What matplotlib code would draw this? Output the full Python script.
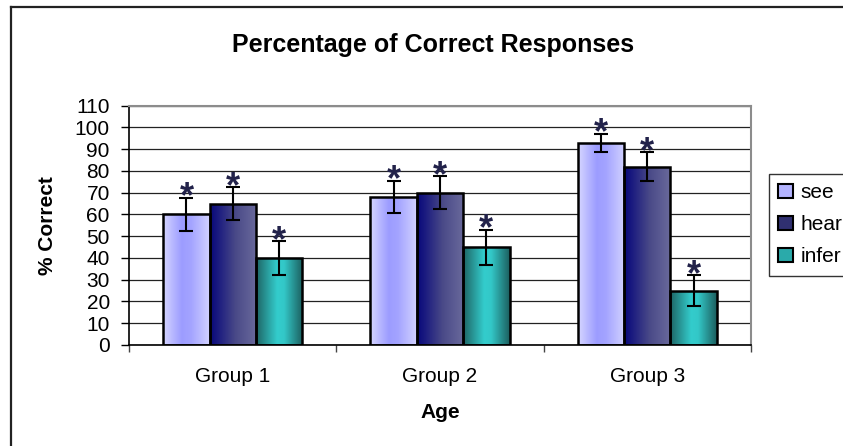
import numpy as np
import matplotlib
matplotlib.use("Agg")
import matplotlib.pyplot as plt
from matplotlib.colors import LinearSegmentedColormap
from matplotlib.patches import Patch
from matplotlib.lines import Line2D

plt.rcParams['font.family'] = ['Liberation Sans', 'DejaVu Sans']

groups = ["Group 1", "Group 2", "Group 3"]
series = ["see", "hear", "infer"]
see = [60, 68, 93]
hear = [65, 70, 82]
infer = [40, 45, 25]
see_err = [7.7, 7.5, 4.2]
hear_err = [7.5, 7.5, 6.5]
infer_err = [7.8, 8, 7]
yticks = list(range(0, 111, 10))

values = [see, hear, infer]
errors = [see_err, hear_err, infer_err]
cmaps = [
    LinearSegmentedColormap.from_list("see", [(0, '#D6D6FF'), (0.4, '#9C9CFF'), (0.6, '#A4A4FF'), (1, '#D2D2FF')]),
    LinearSegmentedColormap.from_list("hear", [(0, '#08087A'), (0.15, '#18187F'), (0.55, '#4A4A88'), (1, '#6A6A9C')]),
    LinearSegmentedColormap.from_list("infer", [(0, '#1E6464'), (0.45, '#33CCCC'), (0.6, '#33C8C8'), (1, '#1C5E5E')]),
]
legend_colors = ['#B4B4FF', '#303070', '#2AAAAA']

fig = plt.figure(figsize=(8.43, 4.46), dpi=100)
ax = fig.add_axes([129.3 / 843, 1 - 345 / 446, (750.7 - 129.3) / 843, (345 - 105.7) / 446])

x = np.arange(len(groups))
w = 0.224
offsets = [-w, 0, w]
grad = np.linspace(0, 1, 256).reshape(1, -1)

for vals, errs, cm, off in zip(values, errors, cmaps, offsets):
    xs = x + off
    bars = ax.bar(xs, vals, width=w, color=cm(0.5), edgecolor='none', zorder=2)
    for b in bars:
        x0, y0 = b.get_x(), b.get_y()
        im = ax.imshow(grad, cmap=cm, extent=(x0, x0 + b.get_width(), y0, y0 + b.get_height()),
                       aspect='auto', zorder=2.5, interpolation='bilinear')
        im.set_clip_path(b)
    ax.bar(xs, vals, width=w, facecolor='none', edgecolor='black', linewidth=1.8, zorder=3)
    ax.errorbar(xs, vals, yerr=errs, fmt='none', ecolor='black', elinewidth=1.5,
                capsize=5, capthick=1.5, zorder=4)
    for xi, v, e in zip(xs, vals, errs):
        ax.annotate('*', (xi, v + e), xytext=(0, -7), textcoords='offset points',
                    ha='center', va='baseline', fontsize=26, fontweight='bold',
                    color='#22224A', zorder=5)

ax.set_xlim(-0.5, 2.5)
ax.set_ylim(0, 110)
ax.set_yticks(yticks)
ax.set_yticklabels([str(t) for t in yticks], fontsize=15)
ax.yaxis.grid(True, color='#222222', linewidth=0.9, zorder=0)
ax.set_axisbelow(True)

ax.set_xticks([-0.5, 0.5, 1.5, 2.5])
ax.set_xticklabels([])
ax.set_xticks(x, minor=True)
ax.set_xticklabels(groups, minor=True, fontsize=15)
ax.tick_params(axis='x', which='minor', length=0, pad=16)
ax.tick_params(axis='x', which='major', direction='out', length=5, width=1, color='#444444')
ax.tick_params(axis='y', direction='out', length=6, width=1, pad=8)

for s in ['left', 'bottom']:
    ax.spines[s].set_color('black')
    ax.spines[s].set_linewidth(1.2)
for s in ['top', 'right']:
    ax.spines[s].set_color('#8C8C8C')
    ax.spines[s].set_linewidth(1.5)

ax.set_ylabel('% Correct', fontsize=15, fontweight='bold', labelpad=13)
ax.set_xlabel('Age', fontsize=15, fontweight='bold', labelpad=12)

fig.text(433 / 843, 1 - 45 / 446, 'Percentage of Correct Responses', ha='center', va='center',
         fontsize=18, fontweight='bold')

handles = [Patch(facecolor=c, edgecolor='black', linewidth=1.5) for c in legend_colors]
leg = fig.legend(handles, series, loc='upper left', bbox_to_anchor=(769 / 843, 1 - 174 / 446),
                 fontsize=15, frameon=True, fancybox=False, shadow=False, borderaxespad=0,
                 handlelength=0.7, handleheight=0.7, handletextpad=0.35, labelspacing=0.62,
                 borderpad=0.45)
leg.get_frame().set_edgecolor('black')
leg.get_frame().set_linewidth(1.0)

xb = 11 / 843
yt = 1 - 7 / 446
fig.lines.append(Line2D([xb, xb], [0, yt], transform=fig.transFigure, color='#222222', linewidth=1.6))
fig.lines.append(Line2D([xb, 1], [yt, yt], transform=fig.transFigure, color='#222222', linewidth=1.6))

fig.savefig('out.png', dpi=100)
